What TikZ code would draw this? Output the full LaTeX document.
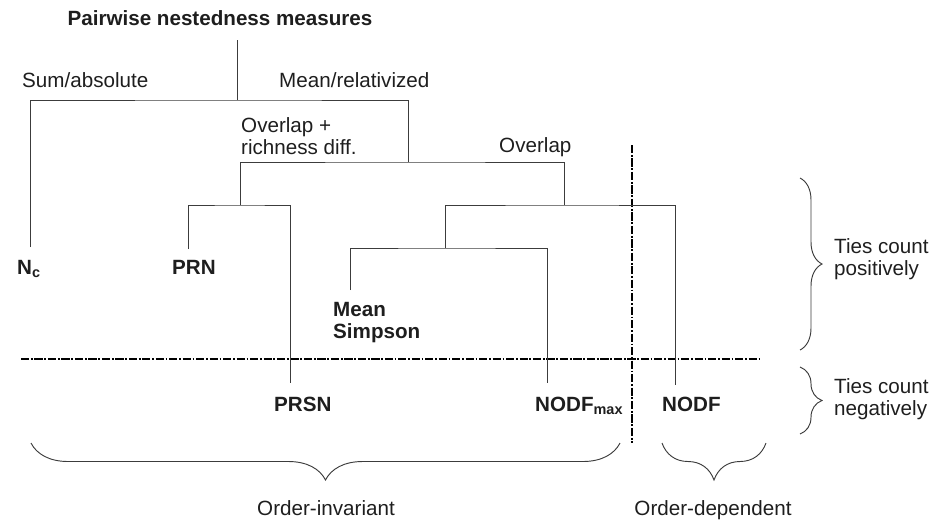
\documentclass[tikz,border=0pt]{standalone}
\usepackage{fontspec}
\setmainfont{Liberation Sans}
\usetikzlibrary{positioning, decorations.pathreplacing, calc}
\definecolor{treegray}{HTML}{3C3C3C}
\definecolor{inkgray}{HTML}{1E1E1E}

\begin{document}
\begin{tikzpicture}[
    x=0.03cm, y=-0.03cm,
    every node/.style={font=\fontsize{17.6}{18.8}\selectfont, text=inkgray, inner sep=0pt},
    leaf/.style={font=\fontsize{17.6}{18.8}\selectfont\bfseries, anchor=base west},
    lbl/.style={anchor=base west},
    branch/.style={draw=treegray, line width=0.8pt},
    cutline/.style={draw=black, line width=1.3pt, dash pattern=on 7pt off 1.5pt on 1.5pt off 1.5pt},
    curly/.style={draw=treegray, line width=0.8pt, decorate, decoration={brace, amplitude=#1}},
  ]
  \useasboundingbox (0,0) rectangle (933,522);

  % labels of the splits
  \node[font=\fontsize{17.6}{18.8}\selectfont\bfseries, anchor=base] (title) at (220,25) {Pairwise nestedness measures};
  \node[lbl] (sumabs) at (22,87) {Sum/absolute};
  \node[lbl] (meanrel) at (279,87) {Mean/relativized};
  \node[anchor=north west, align=left] (ovrich) at (241,117) {Overlap +\\richness diff.};
  \node[lbl] (ovl) at (499,152) {Overlap};

  % measures
  \node[leaf] (nc) at (17,274) {N\textsubscript{c}};
  \node[leaf] (prn) at (172,274) {PRN};
  \node[leaf, anchor=north west, align=left] (msimp) at (333,302) {Mean\\Simpson};
  \node[leaf] (prsn) at (274,411) {PRSN};
  \node[leaf] (nmax) at (535,411) {NODF\textsubscript{max}};
  \node[leaf] (nodf) at (662,411) {NODF};

  % groups
  \node[anchor=west, align=left] (tpos) at (834,259) {Ties count\\positively};
  \node[anchor=west, align=left] (tneg) at (834,399) {Ties count\\negatively};
  \node[anchor=base] (oinv) at (326,515) {Order-invariant};
  \node[anchor=base] (odep) at (713,515) {Order-dependent};

  % junctions and leaf ends
  \coordinate (r0) at (237,40);
  \coordinate (r1) at (237,100);
  \coordinate (m0) at (408,162);
  \coordinate (p0) at (240,205);
  \coordinate (o0) at (564,205);
  \coordinate (o1) at (445,248);
  \coordinate (nc-end) at (30,247);
  \coordinate (prn-end) at (188,249);
  \coordinate (ms-end) at (350,290);
  \coordinate (prsn-end) at (290,383);
  \coordinate (nmax-end) at (547,383);
  \coordinate (nodf-end) at (675,385);

  % cut lines
  \draw[cutline] (21,359) -- (762,359);
  \draw[cutline] (632,145) -- (632,443);

  % tree
  \draw[branch] (r0) -- (r1);
  \draw[branch] (nc-end) |- (r1) -| (m0);
  \draw[branch] (p0) |- (m0) -| (o0);
  \draw[branch] (prn-end) |- (p0) -| (prsn-end);
  \draw[branch] (o1) |- (o0) -| (nodf-end);
  \draw[branch] (ms-end) |- (o1) -| (nmax-end);

  % braces
  \draw[curly=0.66cm] (800,178) -- (800,350);
  \draw[curly=0.66cm] (800,367) -- (800,434);
  \draw[curly=1.11cm] (620,443) -- (31,443);
  \draw[curly=1.11cm] (766,443) -- (662,443);
\end{tikzpicture}
\end{document}
